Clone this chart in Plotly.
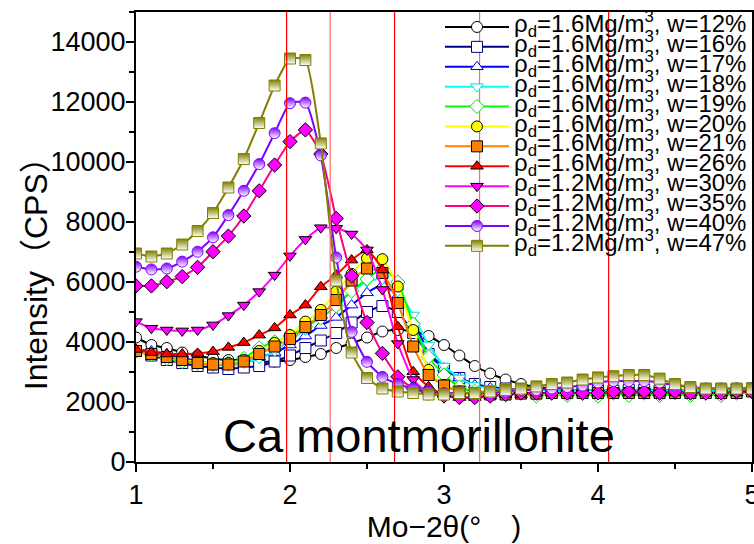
import plotly.graph_objects as go

two_theta = [round(1.0 + 0.1 * i, 1) for i in range(41)]

w12 = [4150, 3900, 3800, 3650, 3550, 3450, 3400, 3400, 3350, 3350, 3400, 3500, 3600, 3800, 3950, 4150, 4350, 4400, 4350, 4200, 3900, 3550, 3200, 2950, 2750, 2600, 2500, 2450, 2400, 2400, 2400, 2380, 2380, 2400, 2380, 2400, 2400, 2420, 2400, 2450, 2450]
w16 = [3700, 3550, 3400, 3300, 3200, 3150, 3100, 3150, 3200, 3350, 3550, 3800, 4050, 4300, 4650, 5000, 5200, 5000, 4300, 3600, 3100, 2800, 2600, 2500, 2450, 2400, 2400, 2400, 2380, 2400, 2400, 2380, 2400, 2400, 2380, 2400, 2400, 2400, 2400, 2420, 2450]
w17 = [3750, 3700, 3600, 3470, 3370, 3300, 3300, 3450, 3500, 3650, 3900, 4200, 4550, 4820, 5230, 5640, 5900, 5550, 4700, 3680, 3130, 2800, 2570, 2470, 2420, 2400, 2420, 2380, 2420, 2380, 2420, 2380, 2420, 2380, 2420, 2380, 2420, 2400, 2420, 2400, 2450]
w18 = [3650, 3600, 3500, 3400, 3300, 3250, 3200, 3300, 3450, 3700, 4070, 4400, 4950, 5250, 5680, 6010, 6100, 5680, 4900, 3900, 3200, 2800, 2550, 2450, 2400, 2380, 2400, 2380, 2400, 2380, 2400, 2380, 2400, 2380, 2400, 2380, 2400, 2380, 2400, 2400, 2420]
w19 = [3700, 3600, 3450, 3350, 3300, 3250, 3300, 3450, 3800, 4000, 4200, 4500, 4800, 5200, 5700, 6100, 6450, 6000, 4600, 3500, 2900, 2500, 2350, 2300, 2250, 2300, 2200, 2300, 2220, 2300, 2200, 2300, 2220, 2300, 2220, 2300, 2220, 2300, 2220, 2300, 2350]
w20 = [3700, 3600, 3500, 3400, 3350, 3300, 3300, 3400, 3700, 3970, 4230, 4680, 5070, 5680, 6270, 6790, 6760, 5850, 4400, 3070, 2570, 2350, 2250, 2250, 2250, 2280, 2280, 2300, 2280, 2300, 2300, 2300, 2300, 2300, 2300, 2300, 2300, 2300, 2300, 2300, 2350]
w21 = [3700, 3600, 3500, 3400, 3300, 3250, 3250, 3350, 3600, 3850, 4100, 4500, 4900, 5400, 6050, 6450, 6300, 5300, 3850, 2900, 2550, 2350, 2250, 2250, 2250, 2280, 2280, 2300, 2300, 2300, 2300, 2300, 2300, 2300, 2300, 2300, 2300, 2300, 2300, 2300, 2350]
w26 = [3750, 3650, 3600, 3600, 3620, 3680, 3820, 3980, 4230, 4470, 4900, 5230, 5840, 6230, 6730, 7070, 6400, 4510, 3010, 2510, 2250, 2150, 2150, 2200, 2250, 2250, 2300, 2300, 2300, 2300, 2300, 2300, 2300, 2300, 2300, 2300, 2300, 2300, 2300, 2300, 2350]
w30 = [4680, 4460, 4400, 4370, 4400, 4570, 4880, 5230, 5680, 6230, 6870, 7420, 7810, 7790, 7600, 7070, 5750, 3950, 2750, 2300, 2200, 2150, 2150, 2200, 2250, 2300, 2300, 2300, 2300, 2300, 2300, 2350, 2300, 2350, 2300, 2350, 2300, 2350, 2300, 2350, 2350]
w35 = [5870, 5870, 6010, 6180, 6490, 7010, 7530, 8200, 9040, 9900, 10680, 11070, 10270, 8120, 6200, 4650, 3620, 2840, 2450, 2300, 2200, 2150, 2150, 2200, 2250, 2300, 2300, 2300, 2300, 2300, 2300, 2350, 2350, 2350, 2300, 2350, 2300, 2300, 2300, 2350, 2350]
w40 = [6510, 6420, 6450, 6680, 7010, 7490, 8230, 9040, 9930, 10960, 11960, 11980, 10220, 6820, 4340, 3340, 2840, 2600, 2450, 2350, 2300, 2300, 2300, 2300, 2350, 2400, 2400, 2450, 2500, 2550, 2650, 2700, 2700, 2700, 2650, 2550, 2500, 2450, 2450, 2450, 2450]
w47 = [6950, 6850, 6950, 7250, 7700, 8300, 9150, 10100, 11300, 12550, 13450, 13400, 10620, 6050, 3650, 2800, 2450, 2350, 2300, 2250, 2250, 2300, 2300, 2350, 2400, 2450, 2520, 2600, 2650, 2750, 2820, 2860, 2900, 2900, 2780, 2600, 2500, 2450, 2450, 2450, 2450]

densities = ["1.6", "1.6", "1.6", "1.6", "1.6", "1.6", "1.6", "1.6", "1.2", "1.2", "1.2", "1.2"]
water = ["12", "16", "17", "18", "19", "20", "21", "26", "30", "35", "40", "47"]
series = [w12, w16, w17, w18, w19, w20, w21, w26, w30, w35, w40, w47]

x_ticks = [1, 2, 3, 4, 5]
y_ticks = [0, 2000, 4000, 6000, 8000, 10000, 12000, 14000]

ref_lines = [1.978, 2.261, 2.679, 3.231, 4.069]
ref_colors = ["#ff0000", "#ff6a6a", "#ff0000", "#ff6a6a", "#ff0000"]

# style: (line color, symbol, fill, edge, gradient)
styles = [
    ("#000000", "circle", "#ffffff", "#000000", None),
    ("#000080", "square", "#ffffff", "#000080", None),
    ("#0000ff", "triangle-up", "#ffffff", "#0000ff", None),
    ("#00ffff", "triangle-down", "#ffffff", "#00e0e0", None),
    ("#00ff00", "diamond", "#ffffff", "#00dd00", None),
    ("#ffff00", "circle", "#ffff00", "#000000", None),
    ("#ff8000", "square", "#ff8000", "#000000", None),
    ("#ff0000", "triangle-up", "#ff0000", "#000000", None),
    ("#ff00ff", "triangle-down", "#ff00ff", "#000000", None),
    ("#ff0080", "diamond", "#ff00ff", "#000000", None),
    ("#8000ff", "circle", "#8000ff", "#8000ff", "#ffffff"),
    ("#808000", "square", "#808000", "#808000", "#ffffff"),
]

fig = go.Figure()

for d, w, ys, (lc, sym, fill, edge, grad) in zip(densities, water, series, styles):
    marker = dict(symbol=sym, size=11, color=fill, line=dict(color=edge, width=1))
    if grad:
        marker["gradient"] = dict(type="vertical", color=grad)
    name = ('<span style="font-size:24px">ρ<sub>d</sub>=' + d +
            'Mg/m<sup>3</sup>, w=' + w + '%</span>')
    fig.add_trace(go.Scatter(
        x=two_theta, y=ys, mode="lines+markers", name=name,
        line=dict(color=lc, width=2, shape="spline", smoothing=0.5),
        marker=marker,
    ))

for xv, c in zip(ref_lines, ref_colors):
    fig.add_shape(type="line", x0=xv, x1=xv, y0=0, y1=1, xref="x", yref="paper",
                  line=dict(color=c, width=1.2), layer="above")

fig.add_annotation(x=2.84, y=900, xref="x", yref="y", text="Ca montmorillonite",
                   showarrow=False, font=dict(size=47, color="black",
                                              family="Liberation Sans, Arial"))

font_main = "Liberation Sans, Arial, Noto Sans CJK JP"

# y-axis title placed as rotated text beside the axis
fig.add_annotation(x=0, y=0.435, xref="paper", yref="paper", text="Intensity（CPS）",
                   textangle=-90, showarrow=False, xanchor="center", yanchor="middle",
                   xshift=-100, font=dict(size=32, color="black", family=font_main))

fig.update_layout(
    width=754, height=544,
    margin=dict(l=136, r=2, t=12, b=82),
    plot_bgcolor="white", paper_bgcolor="white",
    font=dict(family=font_main, color="black", size=24),
    showlegend=True,
    legend=dict(x=1, y=1, xanchor="right", yanchor="top",
                bgcolor="rgba(0,0,0,0)", borderwidth=0,
                font=dict(size=13, family=font_main, color="black"),
                itemwidth=64, tracegroupgap=0),
    xaxis=dict(range=[1, 5], tickvals=x_ticks, ticktext=[str(v) for v in x_ticks],
               ticks="outside", ticklabeloverflow="allow", automargin=False,
               ticklen=8, tickwidth=2, tickcolor="black",
               showline=True, linecolor="black", linewidth=2, mirror=True,
               showgrid=False, zeroline=False,
               minor=dict(tickvals=[1.5, 2.5, 3.5, 4.5], ticks="outside",
                          ticklen=5, tickwidth=2, tickcolor="black"),
               tickfont=dict(size=27),
               title=dict(text="Mo−2θ(°　)", font=dict(size=30), standoff=0)),
    yaxis=dict(range=[0, 15000], tickvals=y_ticks, ticktext=[str(v) for v in y_ticks],
               ticks="outside", ticklen=8, tickwidth=2, tickcolor="black",
               automargin=False, ticklabelstandoff=-5,
               showline=True, linecolor="black", linewidth=2, mirror=True,
               showgrid=False, zeroline=False,
               minor=dict(tickvals=list(range(1000, 15001, 2000)), ticks="outside",
                          ticklen=5, tickwidth=2, tickcolor="black"),
               tickfont=dict(size=27)),
)

fig.write_html("out.html")
